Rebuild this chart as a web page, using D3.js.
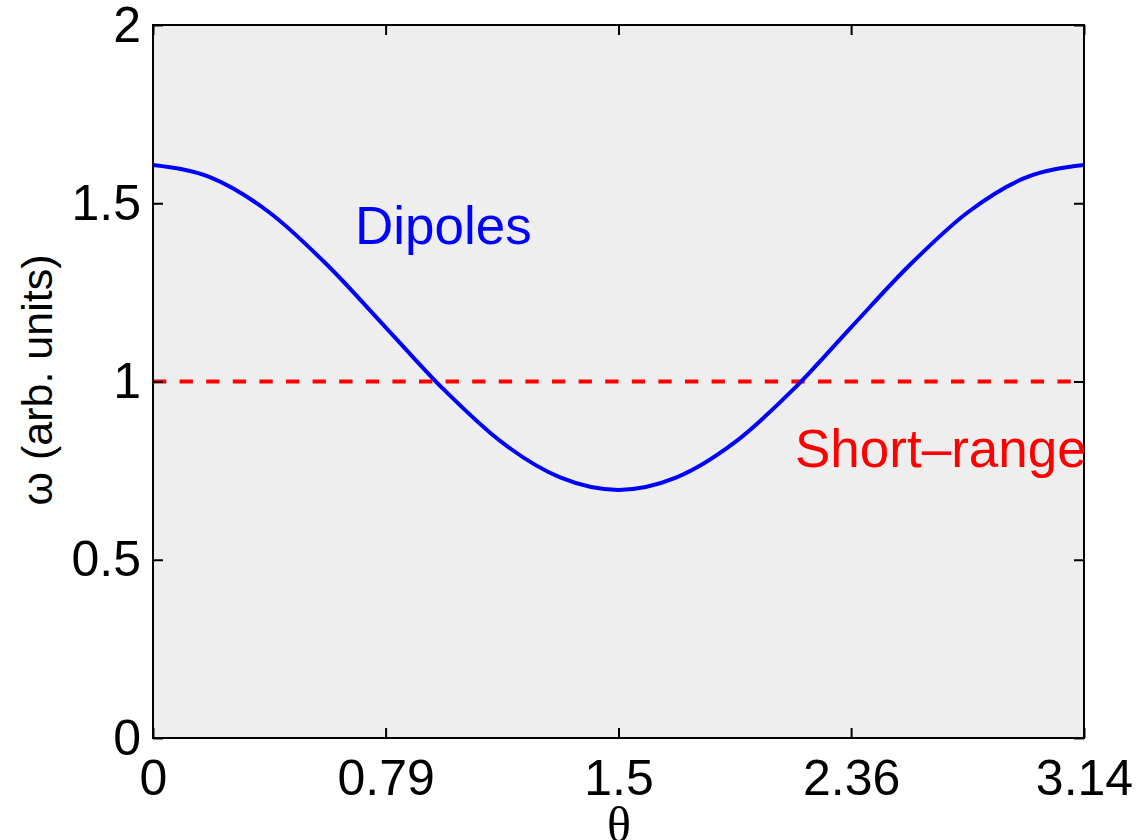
<!DOCTYPE html>
<html>
<head>
<meta charset="utf-8">
<script src="https://cdn.jsdelivr.net/npm/d3@7"></script>
<style>
  html, body { margin: 0; padding: 0; background: #fff; }
  svg { display: block; }
</style>
</head>
<body>
<div id="chart"></div>
<script>
// 图尺寸
const WIDTH = 1139;
const HEIGHT = 840;
const margin = { left: 153, right: 55, top: 25, bottom: 102 };

// 数据
const theta = [0, 0.196, 0.393, 0.589, 0.785, 0.982, 1.178, 1.374, 1.571,
               1.767, 1.963, 2.160, 2.356, 2.553, 2.749, 2.945, 3.142];
const dipoles = [1.607, 1.572, 1.474, 1.326, 1.152, 0.977, 0.829, 0.731, 0.696,
                 0.731, 0.829, 0.977, 1.152, 1.326, 1.474, 1.572, 1.607];
const shortRange = [1.0, 1.0];
const shortRangeTheta = [0, 3.142];

const xTicks = [0, 0.785, 1.571, 2.356, 3.142];
const xTickLabels = ['0', '0.79', '1.5', '2.36', '3.14'];
const yTicks = [0, 0.5, 1, 1.5, 2];
const yTickLabels = ['0', '0.5', '1', '1.5', '2'];

const x = d3.scaleLinear().domain([0, 3.142]).range([margin.left, WIDTH - margin.right]);
const y = d3.scaleLinear().domain([0, 2]).range([HEIGHT - margin.bottom, margin.top]);

const svg = d3.select('#chart')
    .append('svg')
    .attr('width', WIDTH)
    .attr('height', HEIGHT);

const font = 'Liberation Sans, Arial, Helvetica, sans-serif';

// 背景
svg.append('rect')
    .attr('x', x(0))
    .attr('y', y(2))
    .attr('width', x(3.142) - x(0))
    .attr('height', y(0) - y(2))
    .attr('fill', '#eeeeee');

// 短程相互作用（虚线）
svg.append('path')
    .datum(shortRangeTheta.map((t, i) => [t, shortRange[i]]))
    .attr('fill', 'none')
    .attr('stroke', '#ff0000')
    .attr('stroke-width', 4)
    .attr('stroke-dasharray', '13.3,13.3')
    .attr('d', d3.line().x(d => x(d[0])).y(d => y(d[1])));

// 偶极子曲线
svg.append('path')
    .datum(theta.map((t, i) => [t, dipoles[i]]))
    .attr('fill', 'none')
    .attr('stroke', '#0000ff')
    .attr('stroke-width', 4)
    .attr('d', d3.line().curve(d3.curveMonotoneX).x(d => x(d[0])).y(d => y(d[1])));

// 坐标轴
function styleAxis(g) {
    g.select('.domain').remove();
    g.selectAll('.tick line').attr('stroke', '#000').attr('stroke-width', 2);
    g.selectAll('.tick text')
        .attr('font-family', font)
        .attr('font-size', 50)
        .attr('fill', '#000');
}

svg.append('g')
    .attr('transform', `translate(0,${y(0)})`)
    .call(d3.axisBottom(x).tickValues(xTicks).tickFormat((d, i) => xTickLabels[i])
        .tickSizeInner(-10).tickSizeOuter(0).tickPadding(21))
    .call(styleAxis);

svg.append('g')
    .attr('transform', `translate(0,${y(2)})`)
    .call(d3.axisTop(x).tickValues(xTicks).tickFormat('')
        .tickSizeInner(-10).tickSizeOuter(0))
    .call(styleAxis);

svg.append('g')
    .attr('transform', `translate(${x(0)},0)`)
    .call(d3.axisLeft(y).tickValues(yTicks).tickFormat((d, i) => yTickLabels[i])
        .tickSizeInner(-10).tickSizeOuter(0).tickPadding(12))
    .call(styleAxis);

svg.append('g')
    .attr('transform', `translate(${x(3.142)},0)`)
    .call(d3.axisRight(y).tickValues(yTicks).tickFormat('')
        .tickSizeInner(-10).tickSizeOuter(0))
    .call(styleAxis);

// 边框
svg.append('rect')
    .attr('x', x(0))
    .attr('y', y(2))
    .attr('width', x(3.142) - x(0))
    .attr('height', y(0) - y(2))
    .attr('fill', 'none')
    .attr('stroke', '#000')
    .attr('stroke-width', 2);

// 文字标注
svg.append('text')
    .attr('x', 355)
    .attr('y', 244)
    .attr('font-family', font)
    .attr('font-size', 53)
    .attr('fill', '#0000ff')
    .text('Dipoles');

svg.append('text')
    .attr('x', 795)
    .attr('y', 467)
    .attr('font-family', font)
    .attr('font-size', 53)
    .attr('fill', '#ff0000')
    .text('Short\u2013range');

// 轴标题
svg.append('text')
    .attr('x', 619)
    .attr('y', 842)
    .attr('text-anchor', 'middle')
    .attr('font-family', 'Liberation Serif, Times New Roman, serif')
    .attr('font-size', 50)
    .attr('fill', '#000')
    .text('\u03b8');

svg.append('text')
    .attr('transform', 'translate(52,380) rotate(-90)')
    .attr('text-anchor', 'middle')
    .attr('font-family', font)
    .attr('font-size', 43)
    .attr('fill', '#000')
    .text('\u03c9 (arb. units)');
</script>
</body>
</html>
